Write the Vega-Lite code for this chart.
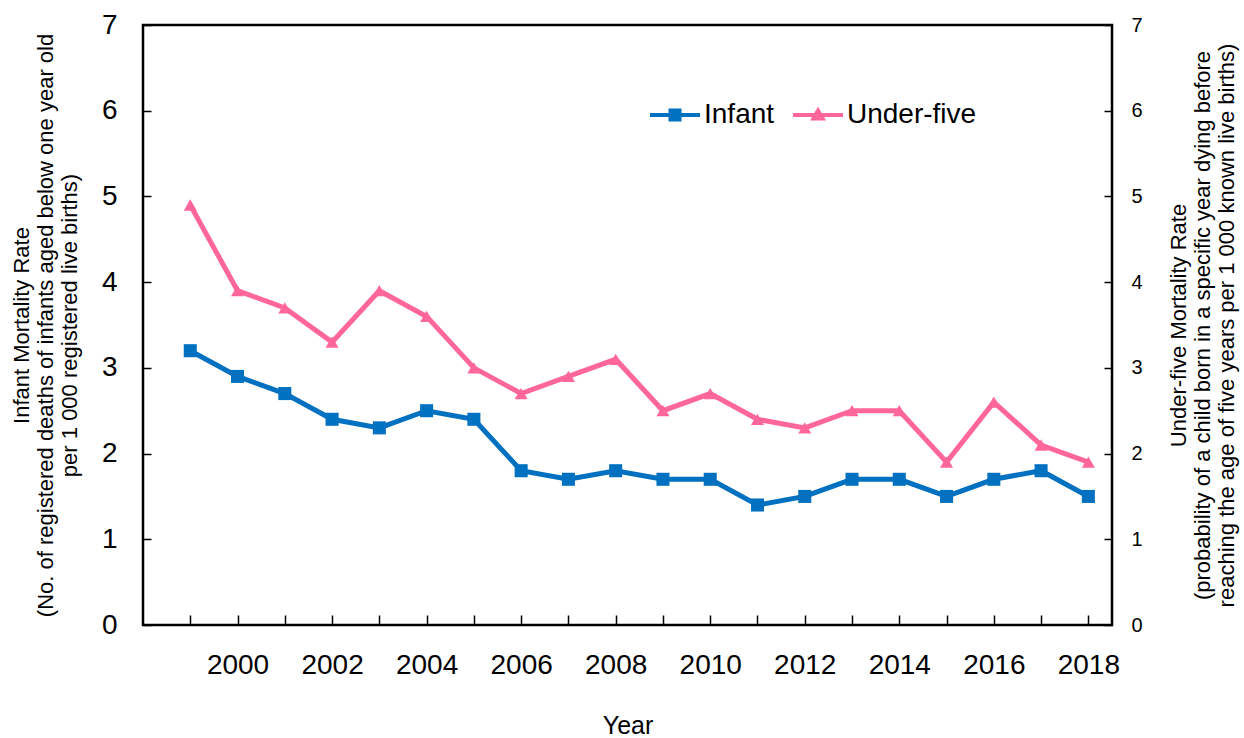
{
  "$schema": "https://vega.github.io/schema/vega-lite/v6.json",
  "width": 969,
  "height": 600,
  "autosize": "none",
  "padding": {"left": 143, "top": 25, "right": 132, "bottom": 113},
  "background": "white",
  "config": {
    "font": "Liberation Sans",
    "view": {"stroke": "black", "strokeWidth": 2.5},
    "axis": {"grid": false, "domain": false, "tickColor": "black", "tickWidth": 1.5, "labelColor": "black", "titleColor": "black", "titleFontWeight": "normal", "labelFont": "Liberation Sans", "titleFont": "Liberation Sans"}
  },
  "data": {
    "values": [
      {"year": 1999, "series": "Infant", "rate": 3.2},
      {"year": 2000, "series": "Infant", "rate": 2.9},
      {"year": 2001, "series": "Infant", "rate": 2.7},
      {"year": 2002, "series": "Infant", "rate": 2.4},
      {"year": 2003, "series": "Infant", "rate": 2.3},
      {"year": 2004, "series": "Infant", "rate": 2.5},
      {"year": 2005, "series": "Infant", "rate": 2.4},
      {"year": 2006, "series": "Infant", "rate": 1.8},
      {"year": 2007, "series": "Infant", "rate": 1.7},
      {"year": 2008, "series": "Infant", "rate": 1.8},
      {"year": 2009, "series": "Infant", "rate": 1.7},
      {"year": 2010, "series": "Infant", "rate": 1.7},
      {"year": 2011, "series": "Infant", "rate": 1.4},
      {"year": 2012, "series": "Infant", "rate": 1.5},
      {"year": 2013, "series": "Infant", "rate": 1.7},
      {"year": 2014, "series": "Infant", "rate": 1.7},
      {"year": 2015, "series": "Infant", "rate": 1.5},
      {"year": 2016, "series": "Infant", "rate": 1.7},
      {"year": 2017, "series": "Infant", "rate": 1.8},
      {"year": 2018, "series": "Infant", "rate": 1.5},
      {"year": 1999, "series": "Under-five", "rate": 4.9},
      {"year": 2000, "series": "Under-five", "rate": 3.9},
      {"year": 2001, "series": "Under-five", "rate": 3.7},
      {"year": 2002, "series": "Under-five", "rate": 3.3},
      {"year": 2003, "series": "Under-five", "rate": 3.9},
      {"year": 2004, "series": "Under-five", "rate": 3.6},
      {"year": 2005, "series": "Under-five", "rate": 3.0},
      {"year": 2006, "series": "Under-five", "rate": 2.7},
      {"year": 2007, "series": "Under-five", "rate": 2.9},
      {"year": 2008, "series": "Under-five", "rate": 3.1},
      {"year": 2009, "series": "Under-five", "rate": 2.5},
      {"year": 2010, "series": "Under-five", "rate": 2.7},
      {"year": 2011, "series": "Under-five", "rate": 2.4},
      {"year": 2012, "series": "Under-five", "rate": 2.3},
      {"year": 2013, "series": "Under-five", "rate": 2.5},
      {"year": 2014, "series": "Under-five", "rate": 2.5},
      {"year": 2015, "series": "Under-five", "rate": 1.9},
      {"year": 2016, "series": "Under-five", "rate": 2.6},
      {"year": 2017, "series": "Under-five", "rate": 2.1},
      {"year": 2018, "series": "Under-five", "rate": 1.9}
    ]
  },
  "encoding": {
    "x": {
      "field": "year",
      "type": "quantitative",
      "scale": {"domain": [1998, 2018.5], "nice": false, "zero": false},
      "axis": {
        "title": "Year",
        "titleFontSize": 25,
        "titlePadding": 34,
        "labelFontSize": 28,
        "values": [1999, 2000, 2001, 2002, 2003, 2004, 2005, 2006, 2007, 2008, 2009, 2010, 2011, 2012, 2013, 2014, 2015, 2016, 2017, 2018],
        "labelExpr": "datum.value % 2 == 0 ? toString(datum.value) : ''",
        "tickSize": -10,
        "labelPadding": 36,
        "labelFlush": false,
        "labelOverlap": false
      }
    }
  },
  "layer": [
    {
      "transform": [{"filter": "datum.series == 'Infant'"}],
      "encoding": {
        "y": {
          "field": "rate",
          "type": "quantitative",
          "scale": {"domain": [0, 7], "nice": false},
          "axis": {
            "orient": "left",
            "values": [0, 1, 2, 3, 4, 5, 6, 7],
            "labelFontSize": 28,
            "tickSize": -8,
            "labelPadding": 34,
            "title": ["Infant Mortality Rate", "(No. of registered deaths of infants aged below one year old", "per 1 000 registered live births)"],
            "titleFontSize": 22,
            "titleLineHeight": 24,
            "titlePadding": 20
          }
        }
      },
      "layer": [
        {"mark": {"type": "line", "color": "#0070C0", "strokeWidth": 5}},
        {"mark": {"type": "point", "shape": "square", "filled": true, "opacity": 1, "size": 170, "color": "#0070C0"}}
      ]
    },
    {
      "transform": [{"filter": "datum.series == 'Under-five'"}],
      "encoding": {
        "y": {
          "field": "rate",
          "type": "quantitative",
          "scale": {"domain": [0, 7], "nice": false},
          "axis": {
            "orient": "right",
            "values": [0, 1, 2, 3, 4, 5, 6, 7],
            "labelFontSize": 20,
            "tickSize": -8,
            "labelPadding": 27,
            "title": ["Under-five Mortality Rate", "(probability of a child born in a specific year dying before", "reaching the age of five years per 1 000 known live births)"],
            "titleAngle": -90,
            "titleFontSize": 22,
            "titleLineHeight": 24,
            "titlePadding": 0
          }
        }
      },
      "layer": [
        {"mark": {"type": "line", "color": "#FF6699", "strokeWidth": 5}},
        {"mark": {"type": "point", "shape": "triangle-up", "filled": true, "opacity": 1, "size": 170, "color": "#FF6699"}},
        {
          "transform": [{"filter": "datum.year < 0"}],
          "mark": {"type": "point", "filled": true, "opacity": 1},
          "encoding": {
            "color": {
              "field": "series",
              "type": "nominal",
              "scale": {"domain": ["Infant", "Under-five"], "range": ["#0070C0", "#FF6699"]},
              "legend": {
                "title": null,
                "orient": "none",
                "direction": "horizontal",
                "legendX": 507,
                "legendY": 65,
                "labelFontSize": 28,
                "labelColor": "black",
                "labelFont": "Liberation Sans",
                "symbolSize": 2500,
                "symbolStrokeWidth": 0,
                "labelOffset": 4,
                "columnPadding": 18
              }
            },
            "shape": {
              "field": "series",
              "type": "nominal",
              "scale": {"domain": ["Infant", "Under-five"], "range": ["M-1,-0.08H1V0.08H-1Z M-0.26,-0.26H0.26V0.26H-0.26Z", "M-1,-0.08H1V0.08H-1Z M0,-0.34L0.32,0.22H-0.32Z"]}
            }
          }
        }
      ]
    }
  ],
  "resolve": {"scale": {"y": "independent"}}
}
